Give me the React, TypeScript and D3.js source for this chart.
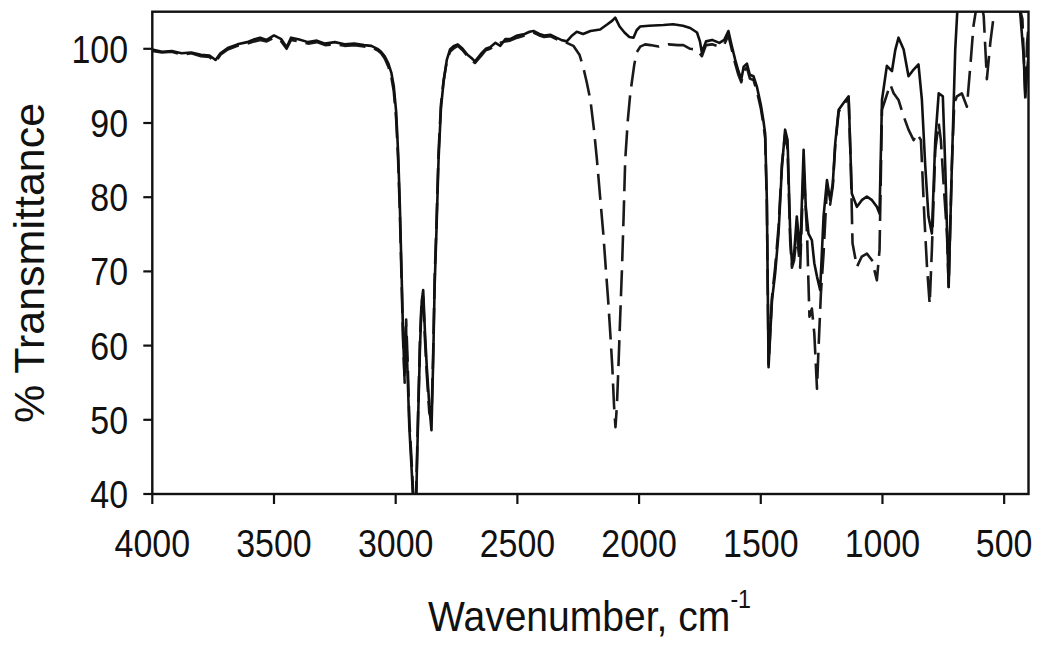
import React from "react";
import * as d3 from "d3";

// Spectrum A (solid line): [wavenumber cm-1, % transmittance]
const solidSpectrum: [number, number][] = [
  [4000, 99.9],[3960, 99.6],[3920, 99.7],[3880, 99.4],[3840, 99.5],[3800, 99.2],[3765, 99.1],[3740, 98.5],[3720, 99.4],[3690, 100.1],[3650, 100.6],[3610, 100.9],[3580, 101.3],[3557, 101.5],[3530, 101.2],[3500, 101.8],[3470, 101.3],[3448, 100.2],[3430, 101.5],[3400, 101.3],[3360, 100.9],[3324, 101.1],[3290, 100.7],[3250, 100.9],[3210, 100.6],[3170, 100.7],[3130, 100.5],[3100, 100.4],[3075, 100.0],[3060, 99.6],[3045, 99.0],[3030, 98.0],[3018, 96.8],[3008, 95.0],[2998, 91.5],[2990, 86],[2983, 79],[2976, 70],[2970, 62],[2964, 56],[2958, 62.5],[2952, 57],[2944, 49],[2934, 43],[2925, 37],[2916, 39],[2908, 50],[2900, 60],[2893, 66],[2887, 67.5],[2880, 62],[2872, 57],[2862, 52],[2853, 48.6],[2846, 58],[2840, 68],[2832, 76],[2824, 85],[2814, 92],[2803, 95.6],[2790, 98.5],[2777, 99.9],[2760, 100.4],[2745, 100.6],[2725, 100.0],[2705, 99.2],[2690, 98.8],[2674, 98.3],[2650, 99.3],[2630, 100.0],[2612, 100.2],[2590, 100.8],[2570, 100.4],[2550, 101.3],[2530, 101.3],[2500, 101.8],[2470, 102.0],[2450, 102.3],[2434, 102.4],[2410, 102.0],[2390, 101.8],[2365, 101.9],[2340, 101.5],[2320, 101.2],[2297, 101.0],[2275, 101.8],[2256, 102.3],[2230, 102.0],[2200, 102.4],[2180, 102.5],[2160, 102.6],[2130, 103.3],[2110, 103.8],[2098, 104.2],[2080, 103.0],[2060, 102.2],[2040, 101.6],[2023, 101.5],[2010, 102.5],[1996, 103.0],[1960, 103.1],[1900, 103.2],[1860, 103.3],[1820, 103.1],[1790, 102.8],[1762, 102.2],[1750, 101.0],[1742, 99.5],[1725, 101.0],[1700, 101.2],[1670, 100.8],[1650, 101.2],[1633, 102.4],[1620, 100.5],[1605, 98.5],[1592, 97.0],[1580, 95.9],[1570, 97.6],[1557, 98.0],[1545, 96.5],[1530, 96.3],[1516, 94.9],[1500, 92.5],[1490, 90.5],[1482, 88.6],[1475, 79.6],[1468, 57.1],[1461, 61.6],[1454, 66.1],[1441, 69.7],[1427, 75.1],[1413, 84.1],[1400, 89.1],[1390, 87.7],[1379, 75.1],[1372, 71.1],[1363, 72.4],[1352, 77.4],[1338, 72.4],[1324, 86.4],[1315, 78.7],[1304, 75.1],[1290, 74.2],[1280, 71.1],[1269, 69.3],[1256, 67.5],[1242, 77.4],[1228, 82.3],[1215, 79.6],[1204, 81.9],[1194, 87.3],[1180, 91.8],[1160, 92.7],[1139, 93.6],[1132, 86.4],[1126, 80.5],[1105, 78.7],[1085, 79.6],[1064, 80.1],[1043, 79.6],[1023, 78.7],[1012, 77.8],[1002, 93.1],[982, 97.7],[961, 97.0],[947, 99.9],[934, 101.5],[913, 99.9],[893, 96.3],[872, 97.2],[852, 97.9],[838, 93.1],[824, 84.1],[811, 77.4],[797, 75.1],[783, 87.7],[769, 94.0],[752, 93.6],[742, 84.1],[728, 67.9],[715, 84.1],[701, 99.9],[691, 106],[650, 108],[600, 107],[560, 108],[520, 107],[480, 106.5],[445, 106],[434, 104.8],[420, 99],[413, 93.6],[406, 97],[400, 99],
];

// Spectrum B (dashed line)
const dashedSpectrum: [number, number][] = [
  [4000, 99.7],[3960, 99.5],[3920, 99.6],[3880, 99.2],[3840, 99.4],[3800, 99.0],[3765, 98.9],[3740, 98.2],[3720, 99.2],[3690, 99.9],[3650, 100.4],[3610, 100.7],[3580, 101.0],[3557, 101.2],[3530, 101.0],[3500, 101.5],[3470, 101.0],[3448, 100.0],[3430, 101.2],[3400, 101.0],[3360, 100.7],[3324, 100.9],[3290, 100.5],[3250, 100.6],[3210, 100.4],[3170, 100.5],[3130, 100.3],[3100, 100.2],[3075, 99.8],[3060, 99.4],[3045, 98.7],[3030, 97.6],[3018, 96.2],[3008, 94.3],[2998, 90.5],[2990, 85],[2983, 78],[2976, 69],[2970, 61],[2963, 55],[2957, 63.5],[2951, 58],[2944, 50],[2934, 44],[2925, 38],[2916, 40],[2908, 51],[2900, 61],[2893, 66.5],[2887, 66.5],[2880, 61],[2872, 56],[2862, 51],[2853, 50],[2846, 59],[2840, 69],[2832, 77],[2824, 86],[2814, 92.5],[2803, 95.8],[2790, 98.3],[2777, 99.6],[2760, 100.1],[2745, 100.4],[2725, 99.8],[2705, 99.0],[2690, 98.5],[2674, 98.1],[2650, 99.0],[2630, 99.8],[2612, 100.0],[2590, 100.5],[2570, 100.8],[2550, 101.0],[2530, 101.1],[2500, 101.5],[2470, 101.8],[2450, 102.0],[2434, 102.2],[2410, 101.8],[2390, 101.6],[2365, 101.7],[2340, 101.3],[2320, 101.0],[2297, 100.8],[2270, 100.4],[2245, 99.2],[2230, 97.6],[2215, 95.5],[2200, 93.1],[2185, 89],[2173, 85],[2160, 80],[2147, 75.1],[2137, 70.5],[2127, 66.1],[2118, 61.5],[2110, 57.1],[2103, 52],[2097, 49],[2091, 52],[2085, 57],[2078, 63.5],[2070, 70.6],[2063, 78],[2057, 85],[2046, 90.5],[2036, 94],[2020, 97.8],[2010, 99.5],[1995, 100.3],[1975, 100.6],[1954, 100.5],[1920, 100.3],[1880, 100.6],[1840, 100.5],[1818, 100.5],[1790, 100.0],[1762, 99.9],[1742, 99.0],[1725, 100.5],[1700, 100.6],[1670, 100.3],[1650, 100.6],[1633, 101.8],[1620, 100.0],[1605, 98.0],[1592, 96.5],[1580, 95.5],[1570, 97.0],[1557, 97.5],[1545, 96.0],[1530, 95.8],[1516, 94.3],[1500, 92.0],[1490, 90.0],[1482, 88.0],[1475, 79],[1468, 57.5],[1461, 62],[1454, 66.5],[1441, 70.5],[1427, 76],[1413, 84.5],[1400, 88.5],[1390, 86.5],[1379, 74],[1372, 70.5],[1363, 71.5],[1352, 75],[1338, 70.5],[1324, 84],[1310, 75.1],[1300, 63.9],[1290, 65],[1280, 61.6],[1269, 54.2],[1263, 59.4],[1253, 67],[1242, 72.4],[1228, 81.4],[1215, 79],[1204, 81.5],[1194, 87],[1180, 91.5],[1160, 92.5],[1139, 93.3],[1130, 84.1],[1123, 73.8],[1105, 70.6],[1085, 72],[1064, 72.4],[1043, 71.5],[1023, 68.8],[1012, 72.9],[1002, 91.8],[989, 93.1],[968, 95.2],[954, 94],[934, 93.1],[913, 90.9],[893, 89.1],[872, 87.7],[858, 88.6],[842, 87.7],[828, 77.4],[817, 70.6],[806, 65.6],[797, 72.9],[783, 86.4],[769, 90],[760, 87.7],[749, 81.9],[735, 75.1],[728, 67.9],[715, 84.1],[705, 92.7],[694, 93.6],[674, 94.0],[653, 92.2],[639, 97.7],[626, 103.1],[612, 106],[595, 106.5],[584, 104.4],[571, 95.9],[557, 100.8],[537, 106],[500, 106.5],[470, 107],[440, 106],[425, 104],[413, 93.1],[406, 100.8],[400, 103],
];

const xTicks = [4000, 3500, 3000, 2500, 2000, 1500, 1000, 500];
const yTicks = [40, 50, 60, 70, 80, 90, 100];
const xDomain: [number, number] = [4000, 400];
const yDomain: [number, number] = [40, 105];

const FONT = "'Liberation Sans', Arial, Helvetica, sans-serif";

export default function App() {
  const left = 152.3, right = 1028.5, top = 11.7, bottom = 494;
  const x = d3.scaleLinear().domain(xDomain).range([left, right]);
  const y = d3.scaleLinear().domain(yDomain).range([bottom, top]);
  const line = d3
    .line<[number, number]>()
    .x((d) => x(d[0]))
    .y((d) => y(d[1]));
  const ink = "#111";

  return (
    <svg
      width={1050}
      height={650}
      style={{ position: "absolute", left: 0, top: 0, background: "#fff" }}
    >
      <defs>
        <clipPath id="plotClip">
          <rect x={left} y={top} width={right - left} height={bottom - top} />
        </clipPath>
      </defs>
      <rect x={0} y={0} width={1050} height={650} fill="#fff" />
      <g clipPath="url(#plotClip)" fill="none" strokeLinejoin="round">
        <path
          d={line(dashedSpectrum) || ""}
          stroke="#1a1a1a"
          strokeWidth={2.6}
          strokeDasharray="26 9"
        />
        <path d={line(solidSpectrum) || ""} stroke={ink} strokeWidth={2.6} />
      </g>
      {/* frame */}
      <rect
        x={left}
        y={top}
        width={right - left}
        height={bottom - top}
        fill="none"
        stroke={ink}
        strokeWidth={2.4}
      />
      {/* y ticks */}
      {yTicks.map((t) => (
        <g key={"y" + t}>
          <line x1={left - 9} x2={left} y1={y(t)} y2={y(t)} stroke={ink} strokeWidth={2.2} />
          <text
            transform={`translate(128, ${y(t) + 14}) scale(0.87, 1)`}
            textAnchor="end"
            fontFamily={FONT}
            fontSize={39}
            fill={ink}
          >
            {t}
          </text>
        </g>
      ))}
      {/* x ticks */}
      {xTicks.map((t) => (
        <g key={"x" + t}>
          <line x1={x(t)} x2={x(t)} y1={bottom} y2={bottom + 10} stroke={ink} strokeWidth={2.2} />
          <text
            transform={`translate(${x(t)}, 557) scale(0.87, 1)`}
            textAnchor="middle"
            fontFamily={FONT}
            fontSize={39}
            fill={ink}
          >
            {t}
          </text>
        </g>
      ))}
      {/* x title */}
      <text
        transform="translate(428, 631) scale(0.93, 1)"
        fontFamily={FONT}
        fontSize={42}
        fill={ink}
      >
        Wavenumber, cm
        <tspan fontSize={25} dy={-23}>
          -1
        </tspan>
      </text>
      {/* y title */}
      <text
        transform={`translate(44, 263) rotate(-90)`}
        textAnchor="middle"
        fontFamily={FONT}
        fontSize={43}
        fill={ink}
      >
        % Transmittance
      </text>
    </svg>
  );
}
